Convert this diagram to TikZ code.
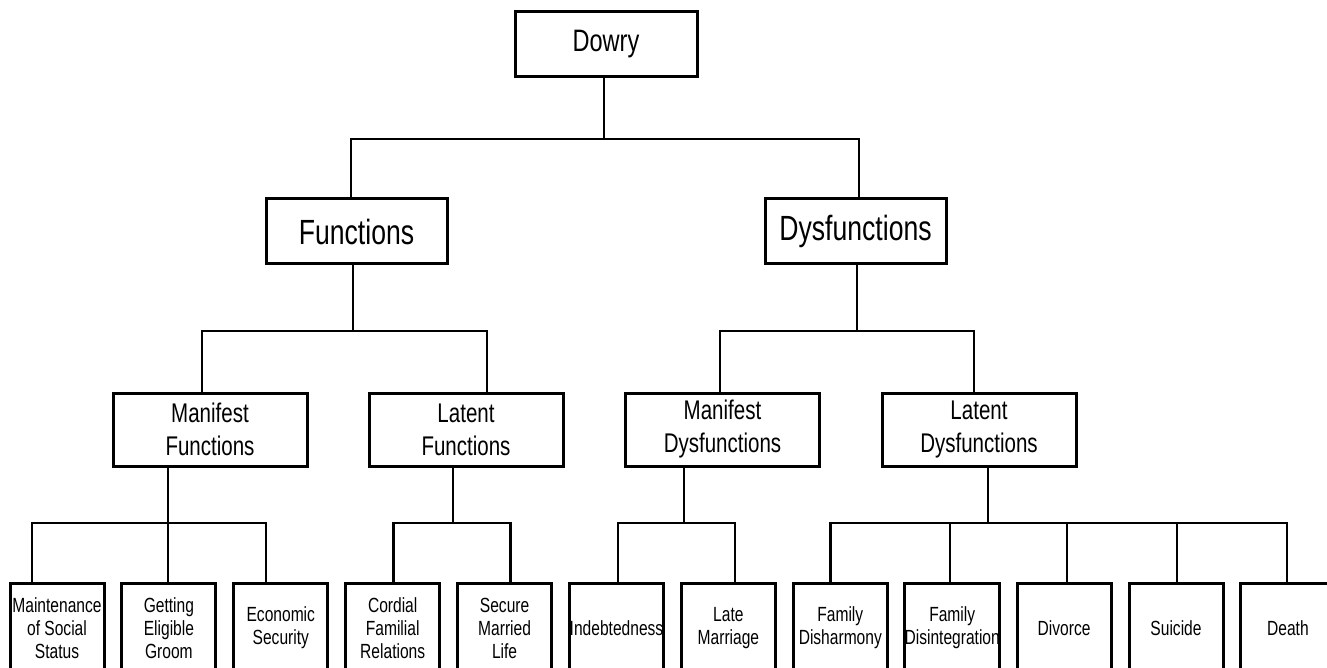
\documentclass[tikz,border=0pt]{standalone}
\usepackage{fontspec}
\setmainfont{Liberation Sans}[FakeStretch=0.76]
\usepackage{tikz}
\tikzstyle{chart} = [x = 1pt, y = -1pt]
\tikzstyle{boxStyle} = [draw, rectangle, line width = 3pt, align = center, inner sep = 0pt]
\tikzstyle{rootBox} = [boxStyle, minimum width = 182pt, minimum height = 65pt, font = \fontsize{31}{35}\selectfont]
\tikzstyle{headBox} = [boxStyle, minimum width = 181pt, minimum height = 65pt, font = \fontsize{35}{40}\selectfont]
\tikzstyle{kindBox} = [boxStyle, minimum width = 194pt, minimum height = 73pt, font = \fontsize{27}{33}\selectfont]
\tikzstyle{leafBox} = [boxStyle, minimum width = 94pt, minimum height = 90pt, font = \fontsize{20.5}{23}\selectfont]
\tikzstyle{linkLine} = [line width = 2.5pt]
\newcommand{\linkBoxes}[5]{
  \coordinate (linkFrom) at ([xshift = #2]#1.south);
  \coordinate (linkTo) at ([xshift = #4]#3.north);
  \draw [linkLine] (linkFrom) -- (linkFrom |- 0,#5) -| (linkTo);
}
\newcommand{\leafStep}{111.9}
\begin{document}
\begin{tikzpicture}[chart]
  \useasboundingbox (0,0) rectangle (1327,668);
  \clip (0,0) rectangle (1327,668);
  \node [rootBox] (dowry) at (606,44.5) {Dowry};
  \node [headBox] (func) at (356.5,231.5) {Functions};
  \node [headBox] (dysf) at (855.5,231.5) {Dysfunctions};
  \node [kindBox] (manF) at (210,429.5) {Manifest\\Functions};
  \node [kindBox] (latF) at (466,429.5) {Latent\\Functions};
  \node [kindBox] (manD) at (722.5,429.5) {Manifest\\Dysfunctions};
  \node [kindBox] (latD) at (979,429.5) {Latent\\Dysfunctions};
  \foreach \leafText [count = \i from 0] in {Maintenance\\of Social\\Status, Getting\\Eligible\\Groom, Economic\\Security, Cordial\\Familial\\Relations, Secure\\Married\\Life, Indebtedness, Late\\Marriage, Family\\Disharmony, Family\\Disintegration, Divorce, Suicide, Death} {
    \node [leafBox] (leaf\i) at (57 + \leafStep * \i, 628) {\leafText};
  }
  \foreach \child/\shift in {func/-5.5, dysf/3.5} {
    \linkBoxes{dowry}{-2}{\child}{\shift}{139}
  }
  \foreach \child/\shift in {manF/-8, latF/21} {
    \linkBoxes{func}{-3.5}{\child}{\shift}{331}
  }
  \foreach \child/\shift in {manD/-2.5, latD/-5} {
    \linkBoxes{dysf}{1.5}{\child}{\shift}{331}
  }
  \foreach \child/\shift in {leaf0/-25, leaf1/-1, leaf2/-15} {
    \linkBoxes{manF}{-42}{\child}{\shift}{523}
  }
  \foreach \child/\shift in {leaf3/1, leaf4/6} {
    \linkBoxes{latF}{-13}{\child}{\shift}{523}
  }
  \foreach \child/\shift in {leaf5/1.5, leaf6/6.6} {
    \linkBoxes{manD}{-38.5}{\child}{\shift}{523}
  }
  \foreach \child/\shift in {leaf7/-10, leaf8/-2, leaf9/3, leaf10/1, leaf11/-1} {
    \linkBoxes{latD}{9}{\child}{\shift}{523}
  }
\end{tikzpicture}
\end{document}
